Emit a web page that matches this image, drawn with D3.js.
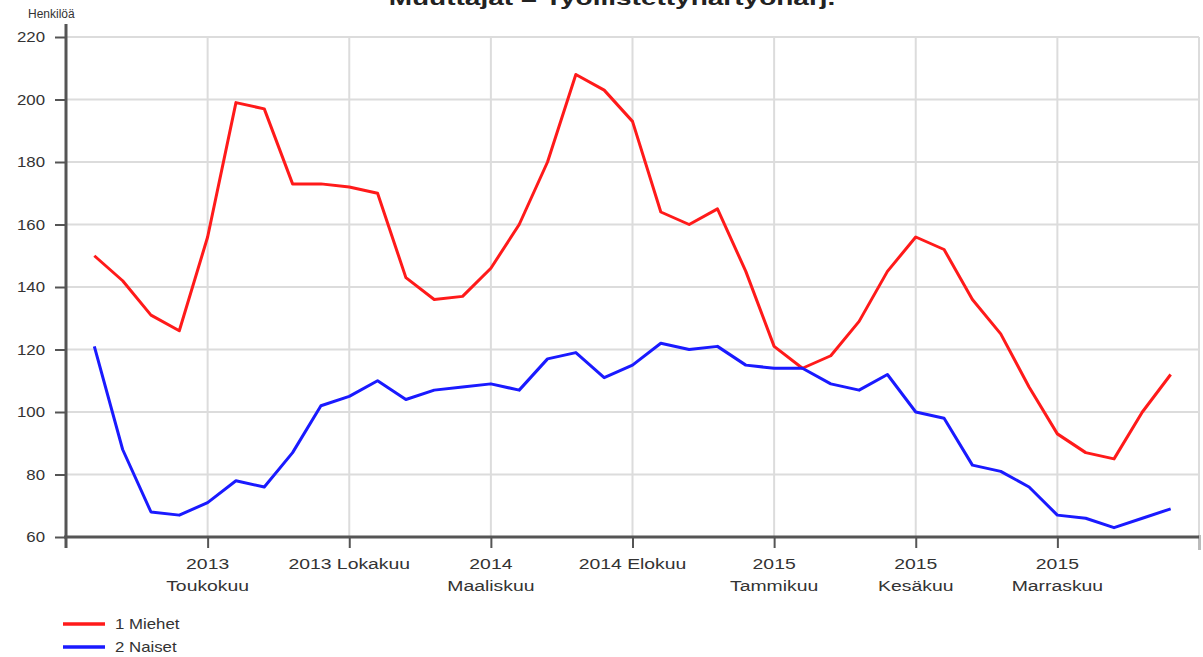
<!DOCTYPE html>
<html>
<head>
<meta charset="utf-8">
<script src="https://cdn.jsdelivr.net/npm/d3@7"></script>
<style>
  html, body { margin: 0; padding: 0; background: #fff; }
  svg { display: block; font-family: "Liberation Sans", Arial, sans-serif; }
</style>
</head>
<body>
<svg id="chart" width="1203" height="657"></svg>
<script>
// ---- Data ----
const months = [
  "2013-01","2013-02","2013-03","2013-04","2013-05","2013-06","2013-07","2013-08","2013-09","2013-10","2013-11","2013-12",
  "2014-01","2014-02","2014-03","2014-04","2014-05","2014-06","2014-07","2014-08","2014-09","2014-10","2014-11","2014-12",
  "2015-01","2015-02","2015-03","2015-04","2015-05","2015-06","2015-07","2015-08","2015-09","2015-10","2015-11","2015-12",
  "2016-01","2016-02","2016-03"
];
const miehet = [150,142,131,126,156,199,197,173,173,172,170,143,136,137,146,160,180,208,203,193,164,160,165,145,121,114,118,129,145,156,152,136,125,108,93,87,85,100,112];
const naiset = [121,88,68,67,71,78,76,87,102,105,110,104,107,108,109,107,117,119,111,115,122,120,121,115,114,114,109,107,112,100,98,83,81,76,67,66,63,66,69];
const tickIndex = [4, 9, 14, 19, 24, 29, 34, 39];
const tickLabels = [["2013","Toukokuu"],["2013 Lokakuu"],["2014","Maaliskuu"],["2014 Elokuu"],["2015","Tammikuu"],["2015","Kesäkuu"],["2015","Marraskuu"],[]];
const yTicks = [60, 80, 100, 120, 140, 160, 180, 200, 220];
const seriesNames = ["1 Miehet", "2 Naiset"];
const seriesColors = ["#ff1a1a", "#1a1aff"];
const titleText = "Muuttajat = Työllistettyhartyöharj.";
const yTitle = "Henkilöä";

// ---- Layout ----
const svg = d3.select("#chart");
const pL = 66, pR = 1199, pT = 37, pB = 537;

const x = d3.scaleLinear().domain([-1, months.length]).range([pL, pR]);
const y = d3.scaleLinear().domain([60, 220]).range([pB, pT]);

// Title (clipped at top, as in the source image)
svg.append("text").attr("transform", "translate(612,5) scale(1.4,1)")
  .attr("text-anchor", "middle").attr("font-size", 20).attr("font-weight", "bold")
  .attr("fill", "#222").text(titleText);

// y title
svg.append("text").attr("x", 28).attr("y", 18)
  .attr("font-size", 12).attr("fill", "#333").text(yTitle);

// Horizontal gridlines
svg.append("g").selectAll("line").data(yTicks.filter(d => d > 60)).join("line")
  .attr("x1", pL).attr("x2", pR)
  .attr("y1", d => y(d)).attr("y2", d => y(d))
  .attr("stroke", "#dcdcdc").attr("stroke-width", 2);

// Vertical gridlines
svg.append("g").selectAll("line").data(tickIndex).join("line")
  .attr("x1", d => x(d)).attr("x2", d => x(d))
  .attr("y1", pT).attr("y2", pB)
  .attr("stroke", "#dcdcdc").attr("stroke-width", 2);

// Y axis
const yAxis = d3.axisLeft(y).tickValues(yTicks).tickSize(11).tickFormat("");
const gy = svg.append("g").attr("transform", `translate(${pL},0)`).call(yAxis);
gy.select(".domain").remove();
gy.selectAll(".tick line").attr("stroke", "#555").attr("stroke-width", 2);
svg.append("g").selectAll("text").data(yTicks).join("text")
  .attr("transform", d => `translate(${pL - 21},${y(d) + 5}) scale(1.2,1)`)
  .attr("text-anchor", "end").attr("font-size", 14).attr("fill", "#333")
  .text(d => d);
svg.append("line").attr("x1", pL).attr("x2", pL).attr("y1", 24).attr("y2", 548)
  .attr("stroke", "#555").attr("stroke-width", 3);

// X axis
const xAxis = d3.axisBottom(x).tickValues(tickIndex).tickSize(11).tickFormat("");
const gx = svg.append("g").attr("transform", `translate(0,${pB})`).call(xAxis);
gx.select(".domain").remove();
gx.selectAll(".tick line").attr("stroke", "#555").attr("stroke-width", 2);
gx.selectAll(".tick").filter(d => d === months.length).select("line").attr("stroke", "#bbb").attr("stroke-width", 3).attr("y1", -2).attr("y2", 13);
svg.append("line").attr("x1", pL - 2).attr("x2", pR).attr("y1", pB).attr("y2", pB)
  .attr("stroke", "#555").attr("stroke-width", 3);

// X tick labels
const lblData = [];
tickIndex.forEach((d, i) => tickLabels[i].forEach((s, k) => lblData.push({ i: d, k: k, s: s })));
svg.append("g").selectAll("text").data(lblData).join("text")
  .attr("transform", d => `translate(${x(d.i)},${569 + d.k * 22}) scale(1.25,1)`)
  .attr("text-anchor", "middle").attr("font-size", 15.5).attr("fill", "#333")
  .text(d => d.s);

// Lines
const line = d3.line().x((d, i) => x(i)).y(d => y(d));
[miehet, naiset].forEach((s, k) => {
  svg.append("path").datum(s).attr("d", line)
    .attr("fill", "none").attr("stroke", seriesColors[k]).attr("stroke-width", 3)
    .attr("stroke-linejoin", "round");
});

// Legend
const lg = svg.append("g").selectAll("g").data(seriesNames).join("g")
  .attr("transform", (d, i) => `translate(63,${624 + i * 23})`);
lg.append("line").attr("x1", 0).attr("x2", 42).attr("y1", 0).attr("y2", 0)
  .attr("stroke", (d, i) => seriesColors[i]).attr("stroke-width", 3.5);
lg.append("text").attr("transform", "translate(52,5) scale(1.2,1)")
  .attr("font-size", 14).attr("fill", "#333").text(d => d);
</script>
</body>
</html>
